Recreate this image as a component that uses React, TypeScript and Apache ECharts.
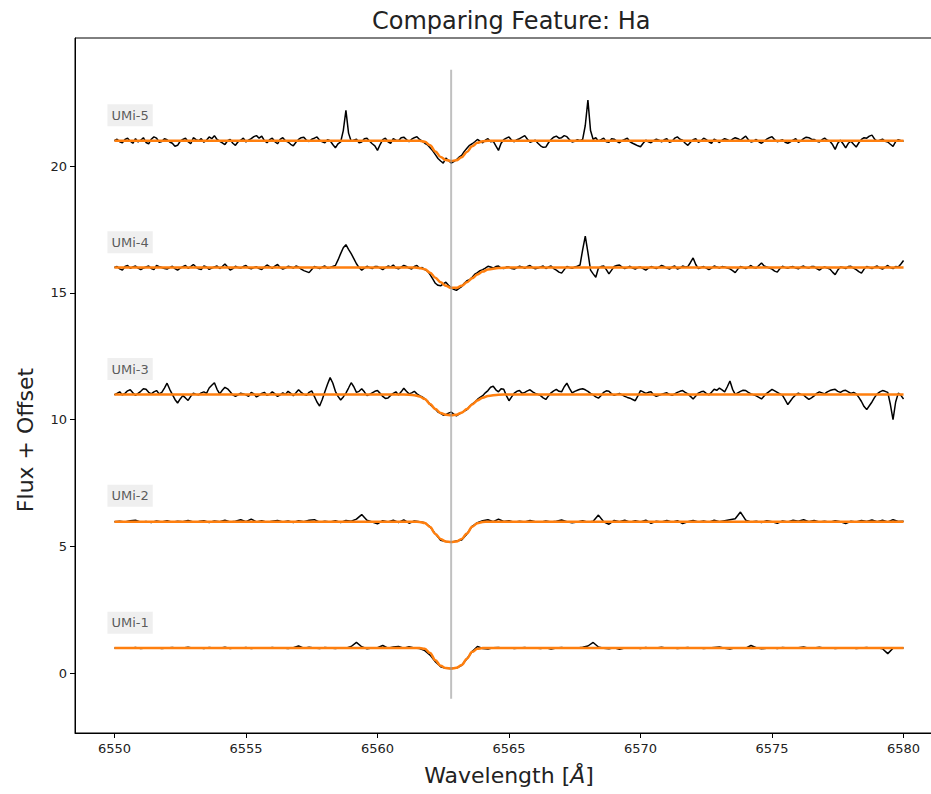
import { useEffect, useRef } from "react";
import * as echarts from "echarts";

// ---------- data ----------
const WL_START = 6550;
const WL_END = 6580;
const COARSE_STEP = 0.2; // sampling of the low-noise spectra (UMi-1, UMi-2)
const FINE_STEP = 0.1; // sampling of the noisy spectra (UMi-3..5)
const makeGrid = (step: number) =>
  Array.from({ length: Math.round((WL_END - WL_START) / step) + 1 }, (_, i) => Math.round((WL_START + step * i) * 10) / 10);
const wavelengthsCoarse = makeGrid(COARSE_STEP);
const wavelengthsFine = makeGrid(FINE_STEP);

const starNames = ["UMi-1", "UMi-2", "UMi-3", "UMi-4", "UMi-5"];
const offsets = [0, 5, 10, 15, 20];

const fluxUMi1 = [
  1.00, 0.99, 1.01, 0.99, 1.02, 0.98, 1.00, 0.99, 1.01, 0.98,
  1.00, 1.02, 0.99, 1.00, 1.03, 0.99, 1.01, 0.98, 1.02, 1.00,
  0.99, 1.03, 0.98, 1.01, 0.99, 1.02, 0.98, 1.00, 1.01, 0.99,
  1.02, 0.99, 1.00, 0.98, 1.01, 1.08, 0.99, 1.03, 1.00, 0.98,
  1.02, 1.00, 0.98, 1.01, 0.99, 1.06, 1.22, 1.05, 0.97, 1.00,
  1.01, 1.10, 0.99, 1.04, 1.06, 0.99, 1.05, 1.00, 0.98, 0.90,
  0.72, 0.46, 0.26, 0.20, 0.19, 0.21, 0.32, 0.58, 0.86, 1.06,
  0.98, 0.96, 1.01, 1.02, 0.99, 1.01, 0.98, 1.00, 1.02, 0.99,
  1.00, 0.98, 1.01, 0.96, 1.00, 1.02, 0.99, 1.01, 1.00, 1.03,
  1.08, 1.22, 1.04, 0.99, 0.97, 1.01, 0.95, 1.00, 0.99, 1.01,
  0.98, 1.02, 0.99, 1.00, 1.03, 0.99, 1.01, 0.98, 1.00, 1.02,
  0.99, 1.01, 0.98, 1.00, 1.02, 1.04, 0.99, 0.96, 1.01, 1.00,
  0.99, 1.10, 1.01, 0.97, 0.99, 1.01, 0.98, 1.02, 1.00, 0.99,
  1.01, 1.04, 0.99, 1.00, 1.03, 0.99, 1.01, 0.98, 1.00, 0.99,
  1.01, 0.98, 1.00, 1.02, 0.99, 1.01, 0.97, 0.78, 0.99, 1.01,
  1.00,
];

const fluxUMi2 = [
  0.98, 1.00, 0.97, 1.02, 1.04, 0.96, 0.99, 0.95, 1.01, 0.97,
  1.02, 0.96, 1.00, 0.98, 1.03, 0.97, 0.99, 1.02, 0.95, 1.01,
  0.98, 1.04, 0.97, 1.00, 1.06, 0.98, 1.08, 0.97, 1.02, 0.96,
  1.00, 1.03, 0.97, 1.01, 0.95, 1.02, 0.98, 1.04, 1.06, 0.96,
  1.00, 0.97, 1.02, 0.95, 1.03, 1.00, 1.08, 1.26, 1.04, 0.97,
  0.90, 1.02, 0.97, 1.04, 0.95, 1.05, 0.92, 1.01, 0.98, 0.94,
  0.78, 0.50, 0.25, 0.20, 0.17, 0.22, 0.26, 0.50, 0.80, 0.94,
  1.02, 1.06, 0.98, 1.08, 0.99, 1.02, 0.96, 1.00, 0.97, 1.03,
  0.98, 0.96, 1.01, 0.97, 1.00, 1.05, 0.98, 0.94, 0.97, 1.02,
  0.96, 1.00, 1.24, 0.98, 0.88, 1.03, 0.98, 1.04, 0.96, 1.02,
  0.97, 1.04, 0.92, 1.00, 0.97, 1.03, 0.96, 1.02, 0.91, 0.98,
  1.03, 0.97, 1.01, 0.96, 1.04, 0.98, 1.02, 1.06, 1.10, 1.36,
  1.04, 0.97, 1.00, 0.95, 1.02, 0.98, 0.92, 1.01, 0.97, 1.04,
  1.00, 1.06, 0.98, 1.03, 0.97, 1.00, 0.96, 1.02, 0.98, 0.91,
  1.00, 0.97, 1.03, 0.99, 1.05, 0.98, 1.04, 0.97, 1.06, 0.99,
  1.00,
];

// one row = 2 Angstrom at 0.1 A sampling
const fluxUMi3 = [
  0.98, 1.04, 1.10, 0.98, 1.04, 1.14, 1.18, 1.06, 0.96, 1.04, 1.12, 1.22, 1.20, 1.08, 1.02, 1.10, 1.15, 1.02, 1.08, 1.25,
  1.44, 1.20, 1.00, 0.80, 0.66, 0.82, 0.95, 0.86, 0.76, 0.92, 1.05, 1.00, 0.98, 1.06, 1.10, 1.04, 1.25, 1.36, 1.46, 1.20,
  1.02, 1.16, 1.28, 1.22, 1.10, 0.98, 0.92, 0.98, 1.05, 1.02, 0.98, 0.92, 1.08, 1.02, 0.90, 0.96, 1.04, 1.08, 0.96, 1.00,
  1.10, 1.02, 0.92, 0.98, 1.06, 1.00, 1.12, 1.04, 0.95, 1.06, 1.18, 1.08, 1.00, 0.96, 1.08, 1.14, 0.92, 0.70, 0.54, 0.80,
  1.10, 1.40, 1.66, 1.45, 1.12, 0.92, 0.78, 0.90, 1.05, 1.25, 1.46, 1.30, 1.08, 1.12, 1.22, 1.10, 0.95, 1.00, 1.06, 1.12,
  1.15, 1.04, 0.92, 0.84, 0.86, 0.96, 1.04, 1.10, 0.98, 1.10, 1.24, 1.12, 1.02, 1.06, 1.12, 1.02, 0.95, 0.90, 0.82, 0.74,
  0.60, 0.50, 0.42, 0.30, 0.25, 0.18, 0.20, 0.26, 0.30, 0.22, 0.15, 0.22, 0.28, 0.34, 0.40, 0.52, 0.62, 0.70, 0.80, 0.88,
  0.95, 1.06, 1.15, 1.28, 1.32, 1.18, 1.10, 1.22, 1.20, 0.95, 0.75, 0.90, 1.05, 1.12, 1.15, 1.04, 1.08, 1.14, 1.18, 1.10,
  1.04, 1.00, 0.95, 0.86, 0.80, 0.94, 1.06, 1.14, 1.20, 1.12, 1.10, 1.30, 1.44, 1.24, 1.06, 1.12, 1.16, 1.20, 1.22, 1.18,
  1.12, 1.04, 0.98, 0.90, 0.85, 0.96, 1.08, 1.14, 1.12, 1.02, 0.96, 1.00, 1.04, 0.98, 0.92, 0.88, 0.85, 0.80, 0.75, 0.94,
  1.15, 1.10, 1.04, 1.08, 1.10, 0.98, 0.92, 0.96, 1.00, 1.04, 1.06, 1.00, 0.96, 1.02, 1.08, 1.12, 1.15, 1.08, 1.02, 0.92,
  0.82, 0.94, 1.05, 1.10, 1.12, 1.04, 0.98, 1.08, 1.20, 1.16, 1.25, 1.18, 1.10, 1.30, 1.53, 1.20, 1.00, 1.06, 1.12, 1.16,
  1.15, 1.08, 1.02, 0.98, 0.94, 0.88, 0.82, 0.94, 1.04, 1.12, 1.20, 1.14, 1.08, 1.02, 0.96, 0.78, 0.60, 0.74, 0.88, 0.98,
  1.05, 1.00, 0.98, 0.88, 0.80, 0.86, 0.94, 1.04, 1.10, 1.06, 1.02, 1.10, 1.15, 1.18, 1.20, 1.12, 1.08, 1.14, 1.16, 1.10,
  1.04, 1.08, 1.02, 0.88, 0.72, 0.52, 0.40, 0.55, 0.70, 0.88, 1.02, 1.10, 1.15, 1.12, 1.08, 0.60, 0.00, 0.70, 1.05, 0.96,
  0.82,
];

const fluxUMi4 = [
  1.00, 1.04, 0.95, 0.90, 1.04, 1.08, 0.97, 1.02, 1.06, 0.98, 0.92, 0.98, 1.02, 1.06, 0.96, 0.92, 1.08, 1.03, 1.00, 0.96,
  0.94, 1.00, 1.05, 0.96, 0.90, 0.98, 1.03, 1.08, 0.97, 1.04, 1.12, 1.02, 0.95, 0.92, 1.06, 1.02, 0.93, 0.98, 1.02, 1.06,
  0.96, 1.04, 1.14, 1.02, 0.90, 0.96, 1.05, 1.00, 0.98, 1.04, 1.08, 0.98, 0.95, 1.00, 1.03, 0.96, 0.92, 1.02, 1.10, 1.04,
  0.97, 1.06, 1.12, 1.00, 0.94, 0.98, 1.05, 1.02, 0.98, 1.06, 1.02, 0.94, 0.88, 0.84, 0.80, 0.92, 1.04, 1.00, 0.96, 1.02,
  1.06, 0.98, 1.00, 1.04, 1.08, 1.30, 1.55, 1.78, 1.90, 1.72, 1.55, 1.35, 1.15, 1.00, 0.90, 0.98, 1.05, 1.00, 0.96, 1.04,
  1.04, 0.98, 0.92, 1.00, 1.06, 1.02, 1.10, 0.98, 0.95, 1.02, 1.08, 1.04, 0.98, 0.94, 1.04, 1.08, 0.96, 1.00, 0.92, 0.86,
  0.72, 0.55, 0.38, 0.30, 0.28, 0.36, 0.42, 0.30, 0.20, 0.14, 0.10, 0.18, 0.25, 0.38, 0.48, 0.52, 0.62, 0.74, 0.80, 0.88,
  0.92, 0.98, 1.05, 1.02, 0.98, 1.04, 1.06, 0.98, 0.96, 1.02, 1.02, 0.96, 0.94, 1.00, 1.05, 1.02, 0.97, 1.04, 1.08, 1.00,
  0.95, 0.98, 1.02, 1.06, 0.96, 1.02, 1.06, 0.96, 0.90, 0.82, 0.78, 0.92, 1.04, 1.00, 0.97, 1.02, 1.05, 1.10, 1.70, 2.24,
  1.60, 0.90, 0.75, 0.62, 0.98, 1.04, 1.06, 0.92, 0.75, 0.90, 1.04, 1.08, 1.10, 1.02, 0.96, 1.00, 1.05, 0.98, 0.94, 1.00,
  1.02, 0.96, 0.90, 0.98, 1.04, 1.00, 0.96, 1.02, 1.08, 1.04, 0.98, 0.94, 1.02, 1.06, 0.94, 0.98, 1.06, 1.02, 1.04, 1.20,
  1.38, 1.12, 0.96, 1.00, 1.04, 0.98, 0.92, 0.98, 1.06, 1.02, 0.98, 1.04, 1.02, 0.98, 0.95, 0.88, 0.80, 0.94, 1.04, 1.00,
  0.96, 1.02, 1.08, 1.00, 0.98, 1.08, 1.18, 1.06, 1.02, 0.98, 0.94, 0.86, 0.82, 0.96, 1.05, 1.00, 0.97, 1.02, 1.04, 0.98,
  0.95, 1.02, 1.06, 1.00, 0.98, 1.04, 1.04, 0.96, 0.90, 0.98, 1.02, 0.98, 0.94, 0.82, 0.72, 0.90, 1.02, 1.00, 0.96, 1.04,
  1.05, 0.98, 0.92, 0.84, 0.78, 0.94, 1.04, 1.00, 0.96, 1.02, 1.06, 0.98, 0.94, 1.02, 1.08, 1.00, 0.96, 1.04, 1.02, 1.14,
  1.28,
];

const fluxUMi5 = [
  1.00, 1.06, 0.96, 0.92, 1.05, 1.10, 0.98, 0.90, 1.08, 0.95, 1.02, 1.12, 0.93, 0.88, 1.06, 1.15, 1.10, 0.94, 0.97, 1.08,
  1.04, 0.95, 0.90, 0.78, 0.82, 0.98, 1.05, 1.10, 0.96, 0.88, 1.12, 1.04, 1.00, 1.08, 0.94, 1.02, 1.15, 1.08, 1.20, 1.05,
  0.98, 0.92, 0.85, 1.00, 1.05, 0.90, 0.82, 0.96, 1.02, 1.10, 0.95, 1.02, 1.08, 1.16, 1.20, 1.10, 1.18, 1.00, 0.92, 1.04,
  1.10, 0.96, 0.88, 1.05, 1.12, 1.00, 0.95, 0.86, 0.80, 0.94, 1.05, 1.12, 1.14, 1.02, 0.97, 1.06, 1.10, 1.15, 1.02, 0.96,
  0.92, 1.04, 1.00, 0.85, 0.72, 0.88, 0.95, 1.40, 2.20, 1.30, 0.98, 1.02, 1.06, 0.92, 0.95, 1.08, 1.10, 0.98, 0.88, 0.80,
  0.62, 0.85, 1.04, 1.10, 0.96, 0.90, 1.08, 1.02, 1.00, 1.12, 1.14, 1.05, 0.96, 1.06, 1.12, 1.16, 1.05, 0.98, 0.90, 0.84,
  0.72, 0.60, 0.45, 0.30, 0.20, 0.12, 0.32, 0.22, 0.12, 0.18, 0.25, 0.35, 0.42, 0.58, 0.70, 0.82, 0.88, 0.96, 1.05, 0.98,
  0.92, 1.02, 1.08, 0.96, 0.98, 0.80, 0.62, 0.90, 1.04, 1.10, 1.15, 1.02, 0.96, 1.04, 1.08, 1.14, 1.20, 1.06, 0.94, 0.98,
  1.02, 0.90, 0.80, 0.74, 0.75, 0.92, 1.05, 1.14, 1.18, 1.10, 1.12, 1.20, 1.16, 1.04, 0.95, 0.98, 1.04, 1.00, 1.05, 1.60,
  2.60, 1.40, 1.05, 1.12, 0.98, 1.04, 1.10, 0.96, 0.94, 1.08, 1.06, 0.98, 0.92, 1.00, 1.05, 1.10, 0.96, 0.90, 0.85, 0.80,
  0.76, 0.90, 1.02, 0.96, 0.92, 1.00, 1.06, 1.02, 0.95, 1.04, 1.08, 0.94, 0.98, 1.10, 1.15, 1.06, 1.02, 0.90, 0.82, 0.94,
  1.04, 1.08, 0.94, 1.00, 1.10, 1.04, 0.96, 0.90, 1.06, 1.00, 0.93, 1.02, 1.08, 1.04, 0.98, 1.06, 1.12, 1.08, 1.02, 1.10,
  1.18, 1.04, 0.95, 0.98, 1.05, 0.96, 0.90, 0.98, 1.06, 1.12, 1.16, 1.04, 0.96, 1.00, 1.04, 0.94, 0.90, 0.96, 1.02, 1.08,
  0.94, 1.00, 1.08, 1.14, 1.12, 1.06, 1.05, 0.98, 0.95, 1.04, 1.10, 1.02, 0.98, 0.85, 0.66, 0.90, 1.02, 0.88, 0.72, 0.90,
  0.98, 0.86, 0.75, 0.92, 1.05, 1.12, 1.10, 1.18, 1.22, 1.06, 0.98, 1.02, 1.06, 0.98, 0.95, 0.86, 0.78, 0.96, 1.04, 1.00,
  0.98,
];

// Fitted profiles (orange), sampled densely across the H-alpha core
const fitWavelengths = [
  6550, 6561.0, 6561.4, 6561.6, 6561.8, 6562.0, 6562.2, 6562.4, 6562.6, 6562.8,
  6563.0, 6563.2, 6563.4, 6563.6, 6563.8, 6564.0, 6564.2, 6564.6, 6565.0, 6580,
];
const fitUMi1 = [1.0, 1.0, 1.0, 1.0, 0.97, 0.80, 0.52, 0.30, 0.21, 0.19, 0.22, 0.33, 0.58, 0.85, 0.97, 1.0, 1.0, 1.0, 1.0, 1.0];
const fitUMi2 = [0.98, 0.98, 0.98, 0.97, 0.93, 0.77, 0.50, 0.30, 0.20, 0.18, 0.20, 0.30, 0.52, 0.78, 0.92, 0.97, 0.98, 0.98, 0.98, 0.98];
const fitUMi3 = [1.0, 1.0, 0.97, 0.92, 0.82, 0.62, 0.42, 0.27, 0.20, 0.18, 0.20, 0.28, 0.42, 0.60, 0.76, 0.87, 0.94, 0.99, 1.0, 1.0];
const fitUMi4 = [1.0, 1.0, 1.0, 0.98, 0.93, 0.80, 0.60, 0.42, 0.28, 0.20, 0.20, 0.28, 0.42, 0.58, 0.73, 0.84, 0.92, 0.98, 1.0, 1.0];
const fitUMi5 = [1.0, 1.0, 1.0, 1.0, 0.96, 0.82, 0.58, 0.36, 0.24, 0.20, 0.23, 0.35, 0.56, 0.78, 0.92, 0.98, 1.0, 1.0, 1.0, 1.0];

const xTicks = [6550, 6555, 6560, 6565, 6570, 6575, 6580];
const yTicks = [0, 5, 10, 15, 20];
const xRange = [6548.5, 6581.5];
const yRange = [-2.35, 25.05];
const halphaWavelength = 6562.8;
const halphaLineSpan = [-1, 23.8];
const labelRise = 2; // label sits 2 units above each offset (continuum + 1)

const fluxes = [fluxUMi1, fluxUMi2, fluxUMi3, fluxUMi4, fluxUMi5];
const grids = [wavelengthsCoarse, wavelengthsCoarse, wavelengthsFine, wavelengthsFine, wavelengthsFine];
const fits = [fitUMi1, fitUMi2, fitUMi3, fitUMi4, fitUMi5];

const FONT = "DejaVu Sans";

export default function App() {
  const ref = useRef<HTMLDivElement>(null);

  useEffect(() => {
    if (!ref.current) return;
    const chart = echarts.init(ref.current, null, { renderer: "svg" });

    const series: any[] = [];
    starNames.forEach((name, k) => {
      const off = offsets[k];
      const grid = grids[k];
      series.push({
        name: name + " data",
        type: "line",
        data: grid.map((w, i) => [w, fluxes[k][i] + off]),
        showSymbol: false,
        symbol: "none",
        lineStyle: { color: "#000000", width: 1.5 },
        z: 2,
        silent: true,
      });
      series.push({
        name: name + " fit",
        type: "line",
        data: fitWavelengths.map((w, i) => [w, fits[k][i] + off]),
        showSymbol: false,
        symbol: "none",
        smooth: 0.35,
        smoothMonotone: "x",
        lineStyle: { color: "#ff7f0e", width: 2.5 },
        z: 3,
        silent: true,
      });
    });

    series.push({
      name: "H-alpha",
      type: "line",
      data: [
        [halphaWavelength, halphaLineSpan[0]],
        [halphaWavelength, halphaLineSpan[1]],
      ],
      showSymbol: false,
      symbol: "none",
      lineStyle: { color: "rgba(150,150,150,0.6)", width: 2 },
      z: 4,
      silent: true,
    });

    series.push({
      name: "labels",
      type: "scatter",
      symbolSize: 0,
      data: starNames.map((n, k) => ({ value: [WL_START, offsets[k] + labelRise], name: n })),
      label: {
        show: true,
        position: "right",
        distance: 0,
        offset: [-7, 0],
        formatter: (p: any) => p.name,
        fontFamily: FONT,
        fontSize: 13,
        color: "#333333",
        backgroundColor: "#ebebeb",
        padding: [5, 4, 4, 4],
      },
      z: 5,
      silent: true,
    });

    chart.setOption({
      animation: false,
      backgroundColor: "#ffffff",
      title: {
        text: "Comparing Feature: Ha",
        left: 372,
        top: 9,
        padding: 0,
        textStyle: { fontFamily: FONT, fontSize: 24, fontWeight: "normal", color: "#222222" },
      },
      grid: {
        left: 75,
        top: 38,
        width: 868,
        height: 695,
        show: true,
        borderColor: "#000000",
        borderWidth: 1,
        backgroundColor: "transparent",
        containLabel: false,
      },
      xAxis: {
        type: "value",
        min: xRange[0],
        max: xRange[1],
        axisLine: { show: true, onZero: false, lineStyle: { color: "#000000", width: 1 } },
        axisTick: { show: true, inside: false, length: 5, customValues: xTicks, lineStyle: { color: "#000000" } },
        axisLabel: {
          show: true,
          customValues: xTicks,
          formatter: (v: number) => String(v),
          margin: 9,
          fontFamily: FONT,
          fontSize: 13,
          color: "#222222",
        },
        splitLine: { show: false },
      },
      yAxis: {
        type: "value",
        min: yRange[0],
        max: yRange[1],
        axisLine: { show: true, onZero: false, lineStyle: { color: "#000000", width: 1 } },
        axisTick: { show: true, inside: false, length: 5, customValues: yTicks, lineStyle: { color: "#000000" } },
        axisLabel: {
          show: true,
          customValues: yTicks,
          formatter: (v: number) => String(v),
          margin: 8,
          fontFamily: FONT,
          fontSize: 13,
          color: "#222222",
        },
        splitLine: { show: false },
      },
      graphic: [
        {
          type: "text",
          x: 509,
          y: 775,
          style: {
            text: "{n|Wavelength [}{i|Å}{n|]}",
            align: "center",
            verticalAlign: "middle",
            rich: {
              n: { fontFamily: FONT, fontSize: 22, fill: "#222222" },
              i: { fontFamily: FONT, fontSize: 22, fontStyle: "italic", fill: "#222222" },
            },
          },
          silent: true,
        },
        {
          type: "text",
          x: 25,
          y: 440,
          rotation: Math.PI / 2,
          style: {
            text: "Flux + Offset",
            align: "center",
            verticalAlign: "middle",
            fontFamily: FONT,
            fontSize: 22,
            fill: "#222222",
          },
          silent: true,
        },
      ],
      series,
    });

    return () => chart.dispose();
  }, []);

  return (
    <div style={{ position: "absolute", left: 0, top: 0, width: 931, height: 794, overflow: "hidden" }}>
      <div ref={ref} style={{ position: "absolute", left: 0, top: 0, width: 960, height: 794 }} />
    </div>
  );
}
